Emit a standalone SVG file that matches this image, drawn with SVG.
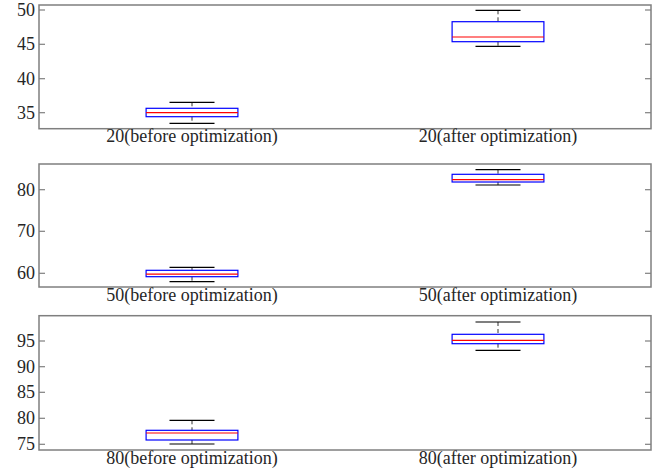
<svg xmlns="http://www.w3.org/2000/svg" width="659" height="470" viewBox="0 0 659 470">
  <style>
    .frame { fill: none; stroke: #7f7f7f; stroke-width: 1.5; }
    .tick { stroke: #7f7f7f; stroke-width: 1.2; }
    .ylab { font-family: "Liberation Serif", "Times New Roman", serif; font-size: 18px; fill: #262626; text-anchor: end; }
    .xlab { font-family: "Liberation Serif", "Times New Roman", serif; font-size: 18px; fill: #262626; text-anchor: middle; }
    .box { fill: none; stroke: #0000ff; stroke-width: 1.2; }
    .median { stroke: #ff0000; stroke-width: 1.2; }
    .whisker { stroke: #333333; stroke-width: 1; stroke-dasharray: 4 3; }
    .cap { stroke: #000000; stroke-width: 1.2; }
  </style>

  <!-- Panel 1: 20 -->
  <g id="panel-20">
    <rect class="frame" x="39" y="5" width="612" height="123.7"/>
    <g class="tick">
      <line x1="39" y1="10" x2="45" y2="10"/><line x1="645" y1="10" x2="651" y2="10"/>
      <line x1="39" y1="44.3" x2="45" y2="44.3"/><line x1="645" y1="44.3" x2="651" y2="44.3"/>
      <line x1="39" y1="78.7" x2="45" y2="78.7"/><line x1="645" y1="78.7" x2="651" y2="78.7"/>
      <line x1="39" y1="112.7" x2="45" y2="112.7"/><line x1="645" y1="112.7" x2="651" y2="112.7"/>
    </g>
    <text class="ylab" x="35" y="16">50</text>
    <text class="ylab" x="35" y="50.3">45</text>
    <text class="ylab" x="35" y="84.7">40</text>
    <text class="ylab" x="35" y="118.7">35</text>
    <text class="xlab" x="192" y="141.8">20(before optimization)</text>
    <text class="xlab" x="498" y="141.8">20(after optimization)</text>
    <g id="box-20-before">
      <line class="whisker" x1="192" y1="102.3" x2="192" y2="108.3"/>
      <line class="whisker" x1="192" y1="116.7" x2="192" y2="123.3"/>
      <line class="cap" x1="169.5" y1="102.3" x2="214.5" y2="102.3"/>
      <line class="cap" x1="169.5" y1="123.3" x2="214.5" y2="123.3"/>
      <rect class="box" x="146.1" y="108.3" width="91.8" height="8.4"/>
      <line class="median" x1="146.1" y1="112.7" x2="237.9" y2="112.7"/>
    </g>
    <g id="box-20-after">
      <line class="whisker" x1="498" y1="10.3" x2="498" y2="21.7"/>
      <line class="whisker" x1="498" y1="41.7" x2="498" y2="46.3"/>
      <line class="cap" x1="475.5" y1="10.3" x2="520.5" y2="10.3"/>
      <line class="cap" x1="475.5" y1="46.3" x2="520.5" y2="46.3"/>
      <rect class="box" x="452.1" y="21.7" width="91.8" height="20"/>
      <line class="median" x1="452.1" y1="37" x2="543.9" y2="37"/>
    </g>
  </g>

  <!-- Panel 2: 50 -->
  <g id="panel-50">
    <rect class="frame" x="39" y="164" width="612" height="123"/>
    <g class="tick">
      <line x1="39" y1="189.7" x2="45" y2="189.7"/><line x1="645" y1="189.7" x2="651" y2="189.7"/>
      <line x1="39" y1="231.3" x2="45" y2="231.3"/><line x1="645" y1="231.3" x2="651" y2="231.3"/>
      <line x1="39" y1="273.3" x2="45" y2="273.3"/><line x1="645" y1="273.3" x2="651" y2="273.3"/>
    </g>
    <text class="ylab" x="35" y="195.7">80</text>
    <text class="ylab" x="35" y="237.3">70</text>
    <text class="ylab" x="35" y="279.3">60</text>
    <text class="xlab" x="192" y="300.8">50(before optimization)</text>
    <text class="xlab" x="498" y="300.8">50(after optimization)</text>
    <g id="box-50-before">
      <line class="whisker" x1="192" y1="267.3" x2="192" y2="270.3"/>
      <line class="whisker" x1="192" y1="276.7" x2="192" y2="281.7"/>
      <line class="cap" x1="169.5" y1="267.3" x2="214.5" y2="267.3"/>
      <line class="cap" x1="169.5" y1="281.7" x2="214.5" y2="281.7"/>
      <rect class="box" x="146.1" y="270.3" width="91.8" height="6.4"/>
      <line class="median" x1="146.1" y1="274.2" x2="237.9" y2="274.2"/>
    </g>
    <g id="box-50-after">
      <line class="whisker" x1="498" y1="169.7" x2="498" y2="174.3"/>
      <line class="whisker" x1="498" y1="182" x2="498" y2="185"/>
      <line class="cap" x1="475.5" y1="169.7" x2="520.5" y2="169.7"/>
      <line class="cap" x1="475.5" y1="185" x2="520.5" y2="185"/>
      <rect class="box" x="452.1" y="174.3" width="91.8" height="7.7"/>
      <line class="median" x1="452.1" y1="179.7" x2="543.9" y2="179.7"/>
    </g>
  </g>

  <!-- Panel 3: 80 -->
  <g id="panel-80">
    <rect class="frame" x="39" y="315.7" width="612" height="134.3"/>
    <g class="tick">
      <line x1="39" y1="341" x2="45" y2="341"/><line x1="645" y1="341" x2="651" y2="341"/>
      <line x1="39" y1="366.7" x2="45" y2="366.7"/><line x1="645" y1="366.7" x2="651" y2="366.7"/>
      <line x1="39" y1="392.3" x2="45" y2="392.3"/><line x1="645" y1="392.3" x2="651" y2="392.3"/>
      <line x1="39" y1="418.3" x2="45" y2="418.3"/><line x1="645" y1="418.3" x2="651" y2="418.3"/>
      <line x1="39" y1="444.3" x2="45" y2="444.3"/><line x1="645" y1="444.3" x2="651" y2="444.3"/>
    </g>
    <text class="ylab" x="35" y="347">95</text>
    <text class="ylab" x="35" y="372.7">90</text>
    <text class="ylab" x="35" y="398.3">85</text>
    <text class="ylab" x="35" y="424.3">80</text>
    <text class="ylab" x="35" y="450.3">75</text>
    <text class="xlab" x="192" y="463.5">80(before optimization)</text>
    <text class="xlab" x="498" y="463.5">80(after optimization)</text>
    <g id="box-80-before">
      <line class="whisker" x1="192" y1="420.3" x2="192" y2="430.3"/>
      <line class="whisker" x1="192" y1="440" x2="192" y2="444"/>
      <line class="cap" x1="169.5" y1="420.3" x2="214.5" y2="420.3"/>
      <line class="cap" x1="169.5" y1="444" x2="214.5" y2="444"/>
      <rect class="box" x="146.1" y="430.3" width="91.8" height="9.7"/>
      <line class="median" x1="146.1" y1="433" x2="237.9" y2="433"/>
    </g>
    <g id="box-80-after">
      <line class="whisker" x1="498" y1="322" x2="498" y2="334.3"/>
      <line class="whisker" x1="498" y1="343.7" x2="498" y2="350.3"/>
      <line class="cap" x1="475.5" y1="322" x2="520.5" y2="322"/>
      <line class="cap" x1="475.5" y1="350.3" x2="520.5" y2="350.3"/>
      <rect class="box" x="452.1" y="334.3" width="91.8" height="9.4"/>
      <line class="median" x1="452.1" y1="340.3" x2="543.9" y2="340.3"/>
    </g>
  </g>
</svg>
